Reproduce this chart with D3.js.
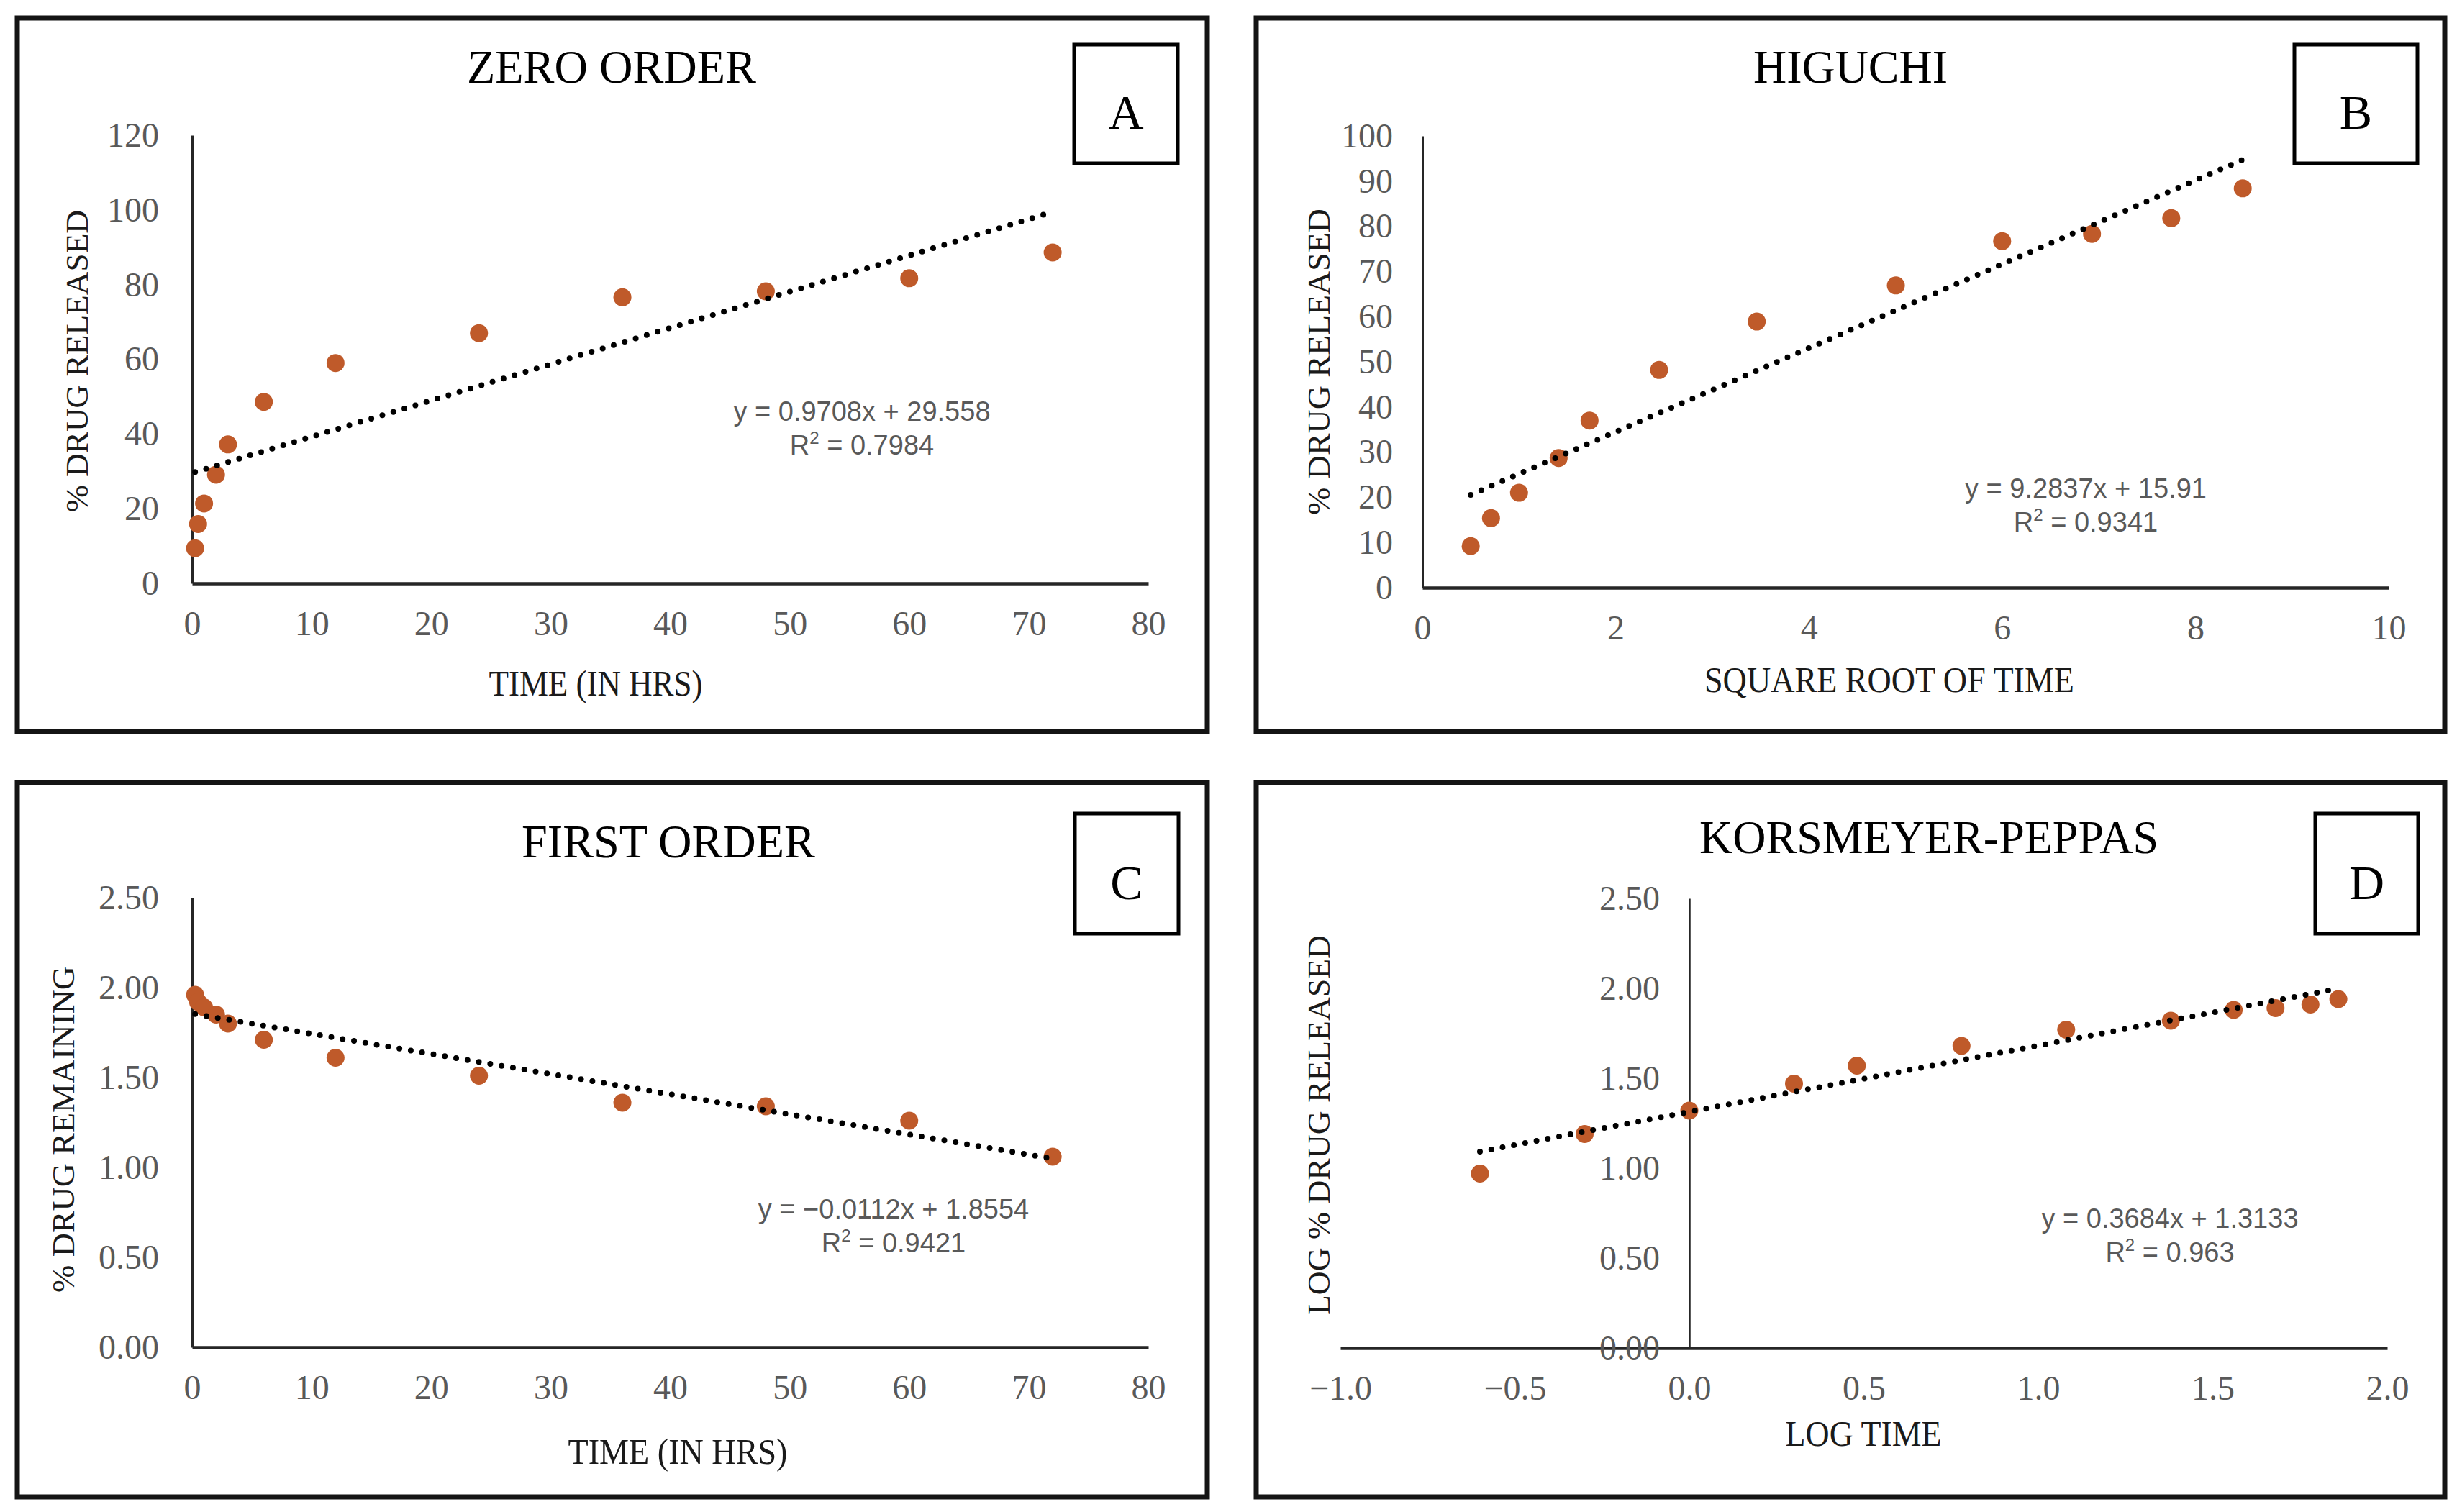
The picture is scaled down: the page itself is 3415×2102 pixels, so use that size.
<!DOCTYPE html>
<html>
<head>
<meta charset="utf-8">
<script src="https://cdn.jsdelivr.net/npm/d3@7"></script>
<style>
  html, body { margin: 0; padding: 0; background: #fff; }
  svg { display: block; }
</style>
</head>
<body>
<svg id="chart"></svg>
<script>
// ---------------------------------------------------------
// DATA
// ---------------------------------------------------------
// time points and % released (zero order)
var timeHrs      = [0.25, 0.5, 1, 2, 3, 6, 12, 24, 36, 48, 60, 72];
var releasedPct  = [9.4, 15.9, 21.4, 29.1, 37.2, 48.6, 59.0, 67.0, 76.6, 78.2, 81.7, 88.6];

// higuchi
var sqrtTime     = [0.50, 0.71, 1.00, 1.41, 1.73, 2.45, 3.46, 4.90, 6.00, 6.93, 7.75, 8.49];
var higuchiPct   = [9.2, 15.4, 21.0, 28.7, 37.0, 48.2, 58.9, 66.9, 76.7, 78.3, 81.8, 88.4];

// first order
var logRemaining = [1.96, 1.92, 1.89, 1.85, 1.80, 1.71, 1.61, 1.51, 1.36, 1.34, 1.26, 1.06];

// korsmeyer-peppas
var logTime      = [-0.60, -0.30, 0.00, 0.30, 0.48, 0.78, 1.08, 1.38, 1.56, 1.68, 1.78, 1.86];
var logReleased  = [0.97, 1.19, 1.32, 1.47, 1.57, 1.68, 1.77, 1.82, 1.88, 1.89, 1.91, 1.94];

// trendline coefficients [slope, intercept] and R2 as printed
var trendA = [0.9708, 29.558],  r2A = "0.7984";
var trendB = [9.2837, 15.91],   r2B = "0.9341";
var trendC = [-0.0112, 1.8554], r2C = "0.9421";
var trendD = [0.3684, 1.3133],  r2D = "0.963";

// tick values
var ticksTime    = [0, 10, 20, 30, 40, 50, 60, 70, 80];
var ticksPct120  = [0, 20, 40, 60, 80, 100, 120];
var ticksSqrt    = [0, 2, 4, 6, 8, 10];
var ticksPct100  = [0, 10, 20, 30, 40, 50, 60, 70, 80, 90, 100];
var ticksLog     = [0, 0.5, 1, 1.5, 2, 2.5];
var ticksLogTime = [-1, -0.5, 0, 0.5, 1, 1.5, 2];

// ---------------------------------------------------------
// SETUP
// ---------------------------------------------------------
var width = 3415;
var height = 2102;
var serif = '"Liberation Serif", "Times New Roman", serif';
var sans = '"Liberation Sans", Arial, sans-serif';
var pointColor = '#bf5a2a';
var labelGray = '#595959';

var svg = d3.select('#chart')
  .attr('width', width)
  .attr('height', height);

svg.append('rect')
  .attr('width', width)
  .attr('height', height)
  .attr('fill', '#fff');

function zip(xs, ys) {
  return xs.map(function(x, i) { return { x: x, y: ys[i] }; });
}

// ---------------------------------------------------------
// PANEL DRAWING
// ---------------------------------------------------------
function drawPanel(p) {
  var g = svg.append('g');

  // outer frame
  g.append('rect')
    .attr('x', p.frame[0]).attr('y', p.frame[1])
    .attr('width', p.frame[2] - p.frame[0])
    .attr('height', p.frame[3] - p.frame[1])
    .attr('fill', 'none')
    .attr('stroke', '#141414')
    .attr('stroke-width', 7);

  var xScale = d3.scaleLinear().domain(p.xDomain).range(p.xRange);
  var yScale = d3.scaleLinear().domain(p.yDomain).range(p.yRange);

  // y axis (sits at x = 0)
  var yAxis = d3.axisLeft(yScale)
    .tickValues(p.yTicks)
    .tickFormat(p.yFormat)
    .tickSize(0)
    .tickSizeOuter(0)
    .tickPadding(p.yPad);

  var yG = g.append('g')
    .attr('transform', 'translate(' + xScale(0) + ',0)')
    .call(yAxis);
  yG.select('.domain').attr('stroke', '#262626').attr('stroke-width', p.yAxisW);
  yG.selectAll('text')
    .attr('font-family', serif)
    .attr('font-size', 48)
    .attr('fill', labelGray);

  // x axis (sits at y = 0)
  var xAxis = d3.axisBottom(xScale)
    .tickValues(p.xTicks)
    .tickFormat(p.xFormat)
    .tickSize(0)
    .tickSizeOuter(0)
    .tickPadding(38);

  var xG = g.append('g')
    .attr('transform', 'translate(0,' + yScale(0) + ')')
    .call(xAxis);
  xG.select('.domain').attr('stroke', '#262626').attr('stroke-width', 4.5);
  xG.selectAll('text')
    .attr('font-family', serif)
    .attr('font-size', 48)
    .attr('fill', labelGray);
  yG.raise();

  // points
  g.append('g').selectAll('circle')
    .data(p.points)
    .enter()
    .append('circle')
    .attr('cx', function(d) { return xScale(d.x); })
    .attr('cy', function(d) { return yScale(d.y); })
    .attr('r', 12.5)
    .attr('fill', pointColor);

  // dotted linear trendline over the data range
  var ext = d3.extent(p.points, function(d) { return d.x; });
  var trend = ext.map(function(x) { return { x: x, y: p.trend[0] * x + p.trend[1] }; });
  g.append('path')
    .datum(trend)
    .attr('d', d3.line()
      .x(function(d) { return xScale(d.x); })
      .y(function(d) { return yScale(d.y); }))
    .attr('fill', 'none')
    .attr('stroke', '#000')
    .attr('stroke-width', 8)
    .attr('stroke-linecap', 'round')
    .attr('stroke-dasharray', '0 16');

  // equation + R2
  g.append('text')
    .attr('x', p.eqPos[0]).attr('y', p.eqPos[1])
    .attr('text-anchor', 'middle')
    .attr('font-family', sans)
    .attr('font-size', 38)
    .attr('fill', labelGray)
    .text(p.eq);

  var r2 = g.append('text')
    .attr('x', p.eqPos[0]).attr('y', p.eqPos[2])
    .attr('text-anchor', 'middle')
    .attr('font-family', sans)
    .attr('font-size', 38)
    .attr('fill', labelGray);
  r2.append('tspan').text('R');
  r2.append('tspan').attr('font-size', 24).attr('dy', -15).text('2');
  r2.append('tspan').attr('dy', 15).text(' = ' + p.r2);

  // title
  g.append('text')
    .attr('x', p.titlePos[0]).attr('y', p.titlePos[1])
    .attr('text-anchor', 'middle')
    .attr('font-family', serif)
    .attr('font-size', 66)
    .attr('fill', '#000')
    .attr('textLength', p.titlePos[2])
    .attr('lengthAdjust', 'spacingAndGlyphs')
    .text(p.title);

  // letter box
  g.append('rect')
    .attr('x', p.box[0]).attr('y', p.box[1])
    .attr('width', p.box[2] - p.box[0])
    .attr('height', p.box[3] - p.box[1])
    .attr('fill', '#fff')
    .attr('stroke', '#000')
    .attr('stroke-width', 5);
  g.append('text')
    .attr('x', (p.box[0] + p.box[2]) / 2)
    .attr('y', p.box[1] + 0.71 * (p.box[3] - p.box[1]))
    .attr('text-anchor', 'middle')
    .attr('font-family', serif)
    .attr('font-size', 68)
    .attr('fill', '#000')
    .text(p.letter);

  // x axis title
  g.append('text')
    .attr('x', p.xTitlePos[0]).attr('y', p.xTitlePos[1])
    .attr('text-anchor', 'middle')
    .attr('font-family', serif)
    .attr('font-size', 50)
    .attr('fill', '#1a1a1a')
    .attr('textLength', p.xTitlePos[2])
    .attr('lengthAdjust', 'spacingAndGlyphs')
    .text(p.xTitle);

  // y axis title
  g.append('text')
    .attr('transform', 'translate(' + p.yTitlePos[0] + ',' + p.yTitlePos[1] + ') rotate(-90)')
    .attr('text-anchor', 'middle')
    .attr('font-family', serif)
    .attr('font-size', 45)
    .attr('fill', '#1a1a1a')
    .attr('textLength', p.yTitlePos[2])
    .attr('lengthAdjust', 'spacingAndGlyphs')
    .text(p.yTitle);
}

// ---------------------------------------------------------
// THE FOUR PANELS
// ---------------------------------------------------------
drawPanel({
  frame: [24, 25, 1678, 1017],
  xDomain: [0, 80], xRange: [267, 1596], xTicks: ticksTime, xFormat: d3.format('d'),
  yDomain: [0, 120], yRange: [811, 188], yTicks: ticksPct120, yFormat: d3.format('d'),
  yPad: 46, yAxisW: 3.5,
  points: zip(timeHrs, releasedPct),
  trend: trendA,
  eq: 'y = 0.9708x + 29.558', r2: r2A, eqPos: [1198, 585, 632],
  title: 'ZERO ORDER', titlePos: [850, 115, 402],
  box: [1493, 62, 1637, 227], letter: 'A',
  xTitle: 'TIME (IN HRS)', xTitlePos: [828, 967, 297],
  yTitle: '% DRUG RELEASED', yTitlePos: [122, 502, 420]
});

drawPanel({
  frame: [1746, 25, 3398, 1017],
  xDomain: [0, 10], xRange: [1977, 3320], xTicks: ticksSqrt, xFormat: d3.format('d'),
  yDomain: [0, 100], yRange: [817, 189], yTicks: ticksPct100, yFormat: d3.format('d'),
  yPad: 41, yAxisW: 3,
  points: zip(sqrtTime, higuchiPct),
  trend: trendB,
  eq: 'y = 9.2837x + 15.91', r2: r2B, eqPos: [2899, 692, 739],
  title: 'HIGUCHI', titlePos: [2572, 115, 270],
  box: [3189, 62, 3360, 227], letter: 'B',
  xTitle: 'SQUARE ROOT OF TIME', xTitlePos: [2626, 962, 514],
  yTitle: '% DRUG RELEASED', yTitlePos: [1848, 503, 426]
});

drawPanel({
  frame: [24, 1088, 1678, 2081],
  xDomain: [0, 80], xRange: [267, 1596], xTicks: ticksTime, xFormat: d3.format('d'),
  yDomain: [0, 2.5], yRange: [1873, 1248], yTicks: ticksLog, yFormat: d3.format('.2f'),
  yPad: 46, yAxisW: 3.5,
  points: zip(timeHrs, logRemaining),
  trend: trendC,
  eq: 'y = \u22120.0112x + 1.8554', r2: r2C, eqPos: [1242, 1694, 1741],
  title: 'FIRST ORDER', titlePos: [929, 1192, 408],
  box: [1494, 1131, 1638, 1298], letter: 'C',
  xTitle: 'TIME (IN HRS)', xTitlePos: [942, 2035, 305],
  yTitle: '% DRUG REMAINING', yTitlePos: [103, 1570, 454]
});

drawPanel({
  frame: [1746, 1088, 3398, 2081],
  xDomain: [-1, 2], xRange: [1863, 3318], xTicks: ticksLogTime, xFormat: d3.format('.1f'),
  yDomain: [0, 2.5], yRange: [1874, 1249], yTicks: ticksLog, yFormat: d3.format('.2f'),
  yPad: 41, yAxisW: 2.5,
  points: zip(logTime, logReleased),
  trend: trendD,
  eq: 'y = 0.3684x + 1.3133', r2: r2D, eqPos: [3016, 1707, 1754],
  title: 'KORSMEYER-PEPPAS', titlePos: [2681, 1186, 638],
  box: [3218, 1131, 3361, 1298], letter: 'D',
  xTitle: 'LOG TIME', xTitlePos: [2590, 2010, 217],
  yTitle: 'LOG % DRUG RELEASED', yTitlePos: [1848, 1564, 528]
});
</script>
</body>
</html>
